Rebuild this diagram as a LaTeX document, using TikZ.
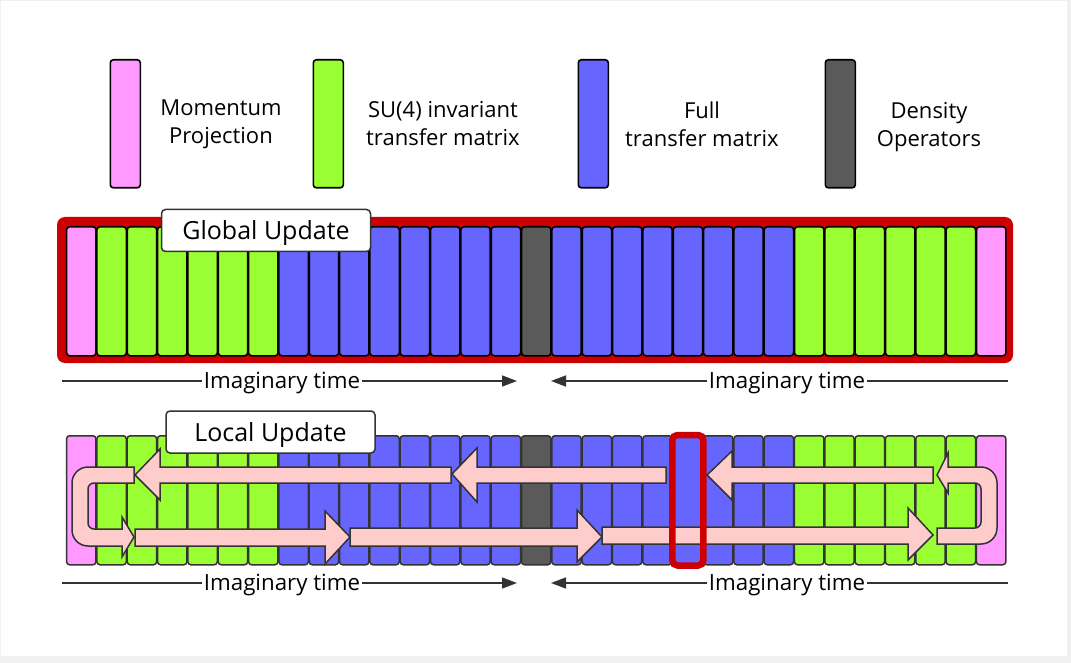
\documentclass[tikz,border=0pt]{standalone}
\usepackage{fontspec}
\setmainfont{Open Sans}
\usetikzlibrary{arrows.meta}
\definecolor{pk}{HTML}{FF99FF}
\definecolor{gr}{HTML}{99FF33}
\definecolor{bl}{HTML}{6666FF}
\definecolor{dk}{HTML}{5A5A5A}
\definecolor{rd}{HTML}{CC0000}
\definecolor{ar}{HTML}{FFCCCC}
\definecolor{ln}{HTML}{333333}
\definecolor{bgc}{HTML}{F0F0F0}
\begin{document}
\begin{tikzpicture}[x=1pt,y=-1pt,
  gcell/.style={draw=black, line width=1.6pt, rounded corners=3pt, minimum width=29.4pt, minimum height=129pt, inner sep=0pt, anchor=north west},
  lcell/.style={draw=ln, line width=1.5pt, rounded corners=3pt, minimum width=29.4pt, minimum height=129pt, inner sep=0pt, anchor=north west},
  legbar/.style={draw=black, line width=1.6pt, rounded corners=3pt, minimum width=30pt, minimum height=128pt, inner sep=0pt, anchor=north west},
  legtxt/.style={align=center, font=\fontsize{22}{28}\selectfont, inner sep=0pt},
  updlabel/.style={draw=ln, line width=1.5pt, fill=white, rounded corners=4pt, minimum width=209pt, minimum height=42pt, inner sep=0pt, text height=22pt, text depth=3pt, font=\fontsize{25}{29}\selectfont},
  tline/.style={draw=ln, line width=1.5pt},
  tlabel/.style={fill=white, inner sep=2pt, font=\fontsize{22.3}{26}\selectfont},
  parrow/.style={draw=ln, line width=1.5pt, fill=ar, line join=miter},
  hilite/.style={draw=rd, line width=6.5pt, rounded corners=5pt}
]
\useasboundingbox (0,0) rectangle (1071,663);
\fill[bgc] (0,0) rectangle (1071,663);
\fill[white] (1,1) rectangle (1067,656);

% legend
\node[legbar, fill=pk] (lp) at (109.5,59) {};
\node[legbar, fill=gr] (lg) at (312.5,59) {};
\node[legbar, fill=bl] (lb) at (577.5,59) {};
\node[legbar, fill=dk] (ld) at (824.5,59) {};
\node[legtxt] (tp) at (221,124) {Momentum\\Projection};
\node[legtxt] (tg) at (443,124) {SU(4) invariant\\transfer matrix};
\node[legtxt] (tb) at (702,124) {Full\\transfer matrix};
\node[legtxt] (td) at (929,127) {Density\\Operators};

\def\cols{pk,gr,gr,gr,gr,gr,gr,bl,bl,bl,bl,bl,bl,bl,bl,dk,bl,bl,bl,bl,bl,bl,bl,bl,gr,gr,gr,gr,gr,gr,pk}

% global update strip
\fill[rd, rounded corners=8pt] (57,217) rectangle (1013,363);
\foreach \c [count=\i from 0] in \cols {
  \node[gcell, fill=\c] (g\i) at ({65.8+\i*30.33},226) {};
}
\node[updlabel] (glab) at (266,230.5) {Global Update};

% global imaginary time
\coordinate (ga) at (62,381);
\coordinate (gb) at (517,381);
\coordinate (gc) at (1008,381);
\coordinate (gd) at (551,381);
\draw[tline, -{Triangle[length=15pt,width=11pt]}] (ga) -- (gb);
\draw[tline, -{Triangle[length=15pt,width=11pt]}] (gc) -- (gd);
\node[tlabel] (gt1) at (282,383) {Imaginary time};
\node[tlabel] (gt2) at (787,383) {Imaginary time};

% local update strip
\foreach \c [count=\i from 0] in \cols {
  \node[lcell, fill=\c] (l\i) at ({65.8+\i*30.33},435) {};
}

% bottom row arrows (pointing right)
\draw[parrow] (135,529) -- (325,529) -- (325,511) -- (350,537) -- (325,564) -- (325,546) -- (135,546) -- cycle;
\draw[parrow] (350,528) -- (577,528) -- (577,510) -- (602,537) -- (577,562) -- (577,546) -- (350,546) -- cycle;
\draw[parrow] (602,527) -- (908,527) -- (908,508) -- (933,535) -- (908,560) -- (908,544) -- (602,544) -- cycle;
% top row arrows (pointing left)
\draw[parrow] (933,467) -- (732,467) -- (732,451) -- (707,475) -- (732,500) -- (732,483) -- (933,483) -- cycle;
\draw[parrow] (666,467) -- (477,467) -- (477,448) -- (452,474) -- (477,502) -- (477,483) -- (666,483) -- cycle;
\draw[parrow] (451,467) -- (160,467) -- (160,449) -- (135,475) -- (160,500) -- (160,483) -- (451,483) -- cycle;
% left U-turn
\draw[parrow] (134,467) [rounded corners=16pt] -- (72,467) -- (72,546) [sharp corners] -- (122,546) -- (122,557) -- (134,537) -- (122,517) -- (122,529) [rounded corners=6pt] -- (88,529) -- (88,483) [sharp corners] -- (134,483) -- cycle;
% right U-turn
\draw[parrow] (948,467) [rounded corners=16pt] -- (997,467) -- (997,544) [sharp corners] -- (937,544) -- (937,528) [rounded corners=6pt] -- (981,528) -- (981,483) [sharp corners] -- (948,483) -- (948,493) -- (937,475) -- (948,453) -- cycle;

% highlighted cell
\draw[hilite] (l20.north west) rectangle (l20.south east);

\node[updlabel] (llab) at (270.5,432) {Local Update};

% local imaginary time
\coordinate (la) at (62,583);
\coordinate (lb) at (517,583);
\coordinate (lc) at (1008,583);
\coordinate (ld) at (551,583);
\draw[tline, -{Triangle[length=15pt,width=11pt]}] (la) -- (lb);
\draw[tline, -{Triangle[length=15pt,width=11pt]}] (lc) -- (ld);
\node[tlabel] (lt1) at (282,585) {Imaginary time};
\node[tlabel] (lt2) at (787,585) {Imaginary time};
\end{tikzpicture}
\end{document}
